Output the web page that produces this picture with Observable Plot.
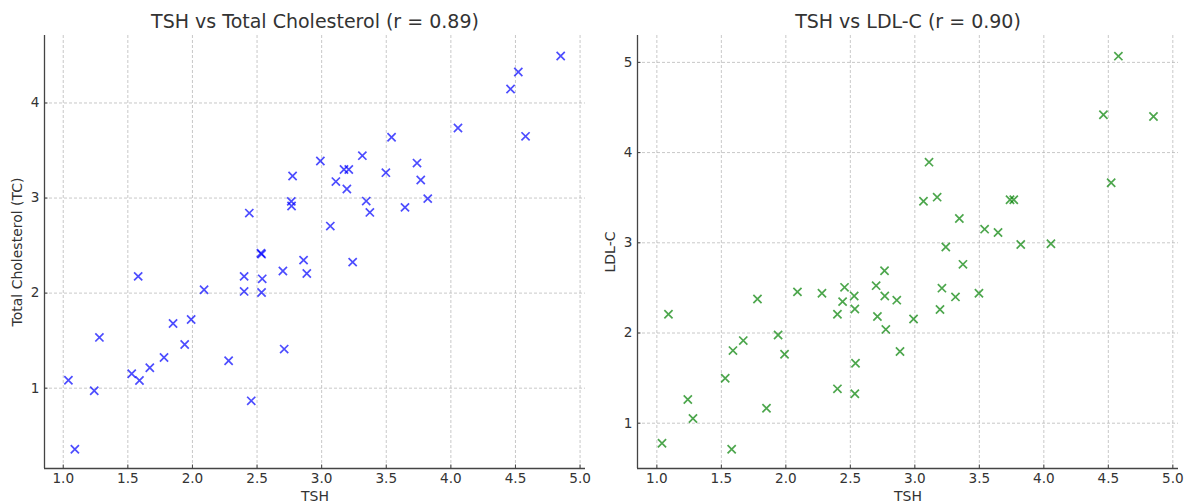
<!DOCTYPE html>
<html><head><meta charset="utf-8">
<script src="https://cdn.jsdelivr.net/npm/d3@7"></script>
<script src="https://cdn.jsdelivr.net/npm/@observablehq/plot@0.6"></script>
<style>
body{margin:0;background:#fff;}
#wrap{position:relative;width:1189px;height:503px;}
#wrap svg{position:absolute;top:0;}
</style></head><body><div id="wrap"></div>
<script>
const tsh = [1.04,1.09,1.24,1.28,1.53,1.58,1.59,1.67,1.78,1.85,1.94,1.99,2.09,2.28,2.40,2.40,2.44,2.455,2.53,2.535,2.54,2.535,2.70,2.71,2.765,2.767,2.775,2.86,2.885,2.99,3.067,3.11,3.173,3.195,3.21,3.24,3.315,3.345,3.373,3.497,3.541,3.645,3.738,3.767,3.821,4.055,4.462,4.522,4.578,4.85];
const tc = [1.084,0.358,0.973,1.534,1.152,2.176,1.081,1.215,1.323,1.681,1.46,1.723,2.036,1.288,2.176,2.018,2.842,0.867,2.42,2.41,2.15,2.007,2.232,1.411,2.965,2.916,3.232,2.347,2.207,3.39,2.705,3.173,3.30,3.095,3.30,2.326,3.446,2.968,2.849,3.267,3.639,2.902,3.368,3.19,2.994,3.737,4.147,4.326,3.649,4.495];
const ldl = [0.778,2.208,1.263,1.052,1.499,0.712,1.805,1.916,2.377,1.166,1.978,1.765,2.456,2.441,2.208,1.381,2.348,2.506,2.41,2.266,1.665,1.326,2.525,2.183,2.69,2.41,2.04,2.364,1.795,2.155,3.461,3.894,3.506,2.261,2.497,2.953,2.40,3.269,2.761,2.44,3.151,3.114,3.477,3.477,2.981,2.989,4.419,3.665,5.069,4.40];
const xTicks = [1.0,1.5,2.0,2.5,3.0,3.5,4.0,4.5,5.0];
const tcTicks = [1,2,3,4];
const ldlTicks = [1,2,3,4,5];
const titleTC = "TSH vs Total Cholesterol (r = 0.89)";
const titleLDL = "TSH vs LDL-C (r = 0.90)";
const xLabel = "TSH";
const yLabelTC = "Total Cholesterol (TC)";
const yLabelLDL = "LDL-C";

function panel({yv, color, yTicks, xDomain, yDomain, title, ylabel, width, marginLeft, marginRight}) {
  const data = tsh.map((t, i) => ({x: t, y: yv[i]}));
  const font = "DejaVu Sans, sans-serif";
  const height = 503, marginTop = 35, marginBottom = 35;
  const tickLen = 3.5;
  const dyUnit = (yDomain[1] - yDomain[0]) / (height - marginTop - marginBottom);
  const dxUnit = (xDomain[1] - xDomain[0]) / (width - marginLeft - marginRight);
  const fx = d3.format(".1f"), fy = d3.format("d");
  const txt = {fontFamily: font, fill: "#333"};
  return Plot.plot({
    width, height, marginTop, marginBottom, marginLeft, marginRight,
    style: {fontFamily: font, fontSize: "13.6px", color: "#333", background: "white", overflow: "visible"},
    x: {domain: xDomain, axis: null},
    y: {domain: yDomain, axis: null},
    marks: [
      Plot.gridX(xTicks, {stroke: "#b0b0b0", strokeOpacity: 0.7, strokeDasharray: "3,2"}),
      Plot.gridY(yTicks, {stroke: "#b0b0b0", strokeOpacity: 0.7, strokeDasharray: "3,2"}),
      Plot.text(xTicks, {x: d => d, text: d => fx(d), frameAnchor: "bottom", lineAnchor: "top", dy: 5, fontSize: 13.6, ...txt}),
      Plot.text(yTicks, {y: d => d, text: d => fy(d), frameAnchor: "left", textAnchor: "end", lineAnchor: "middle", dx: -5, fontSize: 13.6, ...txt}),
      Plot.ruleX(xTicks, {y1: yDomain[0], y2: yDomain[0] + tickLen * dyUnit, stroke: "#444", strokeWidth: 1}),
      Plot.ruleY(yTicks, {x1: xDomain[0], x2: xDomain[0] + tickLen * dxUnit, stroke: "#444", strokeWidth: 1}),
      Plot.ruleX([xDomain[0]], {stroke: "#444", strokeWidth: 1.3}),
      Plot.ruleY([yDomain[0]], {stroke: "#444", strokeWidth: 1.3}),
      Plot.dot(data, {x: "x", y: "y", symbol: "times", r: 3.8, stroke: color, strokeOpacity: 0.7, strokeWidth: 1.7}),
      Plot.text([title], {frameAnchor: "top", lineAnchor: "middle", dy: -14, fontSize: 19, ...txt}),
      Plot.text([xLabel], {frameAnchor: "bottom", lineAnchor: "middle", dy: 28, fontSize: 14, ...txt}),
      Plot.text([ylabel], {frameAnchor: "left", textAnchor: "middle", lineAnchor: "middle", rotate: -90, dx: -26.5, fontSize: 14, ...txt})
    ]
  });
}

const wrap = document.getElementById("wrap");
const left = panel({yv: tc, color: "blue", yTicks: tcTicks, xDomain: [0.855, 5.042], yDomain: [0.155, 4.71],
  title: titleTC, ylabel: yLabelTC, width: 594, marginLeft: 44, marginRight: 9});
left.style.left = "0px";
wrap.appendChild(left);
const right = panel({yv: ldl, color: "green", yTicks: ldlTicks, xDomain: [0.85, 5.044], yDomain: [0.498, 5.298],
  title: titleLDL, ylabel: yLabelLDL, width: 595, marginLeft: 43, marginRight: 11});
right.style.left = "594px";
wrap.appendChild(right);
</script></body></html>
